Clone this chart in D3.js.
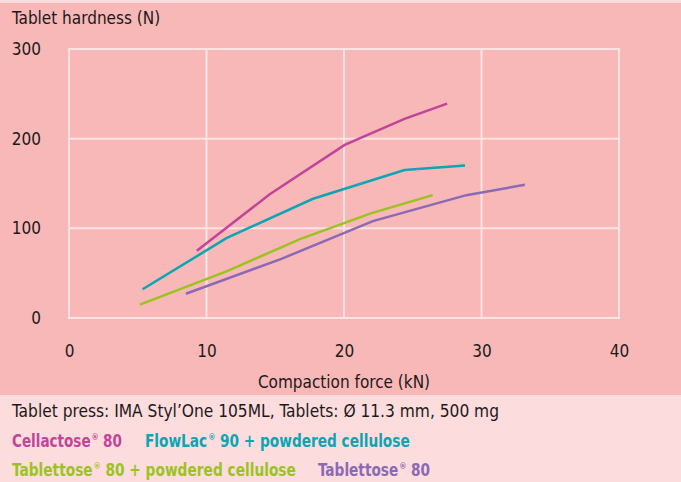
<!DOCTYPE html>
<html>
<head>
<meta charset="utf-8">
<script src="https://cdn.jsdelivr.net/npm/d3@7"></script>
<style>
  body { margin: 0; background: #fddcdd; }
  svg text { font-family: "DejaVu Sans Condensed", "DejaVu Sans", sans-serif; fill: #1a1a1a; }
</style>
</head>
<body>
<div id="chart"></div>
<script>
var width = 681, height = 482;
var margin = {left: 69, right: 62, top: 49, bottom: 164};

// data (force kN, hardness N)
var cellactose = [[9.3, 75], [14.6, 138], [20.05, 193], [24.4, 222], [27.5, 239]];
var flowlac = [[5.35, 32], [11.45, 89], [17.75, 133], [24.4, 165], [28.8, 170]];
var tablettoseCell = [[5.15, 15], [11.45, 52], [16.8, 88], [22.0, 117], [26.45, 137]];
var tablettose = [[8.5, 27], [15.45, 66], [22.1, 108], [28.9, 137], [33.15, 148.5]];

var xTicks = [0, 10, 20, 30, 40];
var yTicks = [0, 100, 200, 300];

var series = [
  {name: 'Tablettose 80', data: tablettose, color: '#8a6ab4'},
  {name: 'Tablettose 80 + powdered cellulose', data: tablettoseCell, color: '#9ac31f'},
  {name: 'FlowLac 90 + powdered cellulose', data: flowlac, color: '#0ba5b4'},
  {name: 'Cellactose 80', data: cellactose, color: '#c2449a'}
];

var svg = d3.select('#chart').append('svg')
    .attr('width', width)
    .attr('height', height);

// background panels
svg.append('rect').attr('x', 0).attr('y', 0).attr('width', width).attr('height', height)
   .style('fill', '#fddcdd');
svg.append('rect').attr('x', 0).attr('y', 3).attr('width', width).attr('height', 392)
   .style('fill', '#f8b8b8');

var xScale = d3.scaleLinear().domain([0, 40]).range([margin.left, width - margin.right]);
var yScale = d3.scaleLinear().domain([0, 300]).range([height - margin.bottom, margin.top]);

var grid_g = svg.append('g');
grid_g.selectAll('.vgrid').data(xTicks).enter().append('line')
    .attr('x1', d => xScale(d)).attr('x2', d => xScale(d))
    .attr('y1', yScale(0)).attr('y2', yScale(300))
    .style('stroke', '#fde3e3').style('stroke-width', 2);
grid_g.selectAll('.hgrid').data(yTicks).enter().append('line')
    .attr('x1', xScale(0) - 1).attr('x2', xScale(40) + 1)
    .attr('y1', d => yScale(d)).attr('y2', d => yScale(d))
    .style('stroke', '#fde3e3').style('stroke-width', 2);

// axes
var xAxis = svg.append('g')
    .attr('transform', 'translate(0,' + (yScale(0) + 41) + ')')
    .call(d3.axisBottom(xScale).tickValues(xTicks).tickSize(0).tickPadding(0));
xAxis.select('.domain').remove();
xAxis.selectAll('text').style('font-size', '17px').attr('dy', '-0.1em');

var yAxis = svg.append('g')
    .attr('transform', 'translate(41,0)')
    .call(d3.axisLeft(yScale).tickValues(yTicks).tickSize(0).tickPadding(0));
yAxis.select('.domain').remove();
yAxis.selectAll('text').style('font-size', '17px').attr('dy', '0.32em');

svg.append('text').attr('x', 12).attr('y', 24)
   .style('font-size', '17px').text('Tablet hardness (N)');
svg.append('text').attr('x', xScale(20)).attr('y', 388)
   .attr('text-anchor', 'middle')
   .style('font-size', '17px').text('Compaction force (kN)');

// lines
var line = d3.line()
    .x(d => xScale(d[0]))
    .y(d => yScale(d[1]));

svg.selectAll('.series').data(series).enter().append('path')
    .attr('d', d => line(d.data))
    .style('fill', 'none')
    .style('stroke', d => d.color)
    .style('stroke-width', 2.5);

// caption + legend
svg.append('text').attr('x', 12).attr('y', 417)
   .style('font-size', '17px')
   .attr('textLength', 487).attr('lengthAdjust', 'spacingAndGlyphs')
   .text('Tablet press: IMA Styl\u2019One 105ML, Tablets: \u00d8 11.3 mm, 500 mg');

var legendItems = [
  {label: 'Cellactose', rest: '80', color: '#c2449a', x: 12, y: 447, w: 110},
  {label: 'FlowLac', rest: '90 + powdered cellulose', color: '#0ba5b4', x: 145, y: 447, w: 265},
  {label: 'Tablettose', rest: '80 + powdered cellulose', color: '#9ac31f', x: 12, y: 476, w: 284},
  {label: 'Tablettose', rest: '80', color: '#8a6ab4', x: 318, y: 476, w: 112}
];

legendItems.forEach(function(item) {
  var g = svg.append('g');
  var a = g.append('text').attr('x', 0).attr('y', 0)
      .style('font-size', '17px').style('font-weight', 'bold')
      .style('fill', item.color).text(item.label);
  var wa = a.node().getComputedTextLength();
  var s = g.append('text').attr('x', wa + 1).attr('y', -7)
      .style('font-size', '9px').style('font-weight', 'bold')
      .style('fill', item.color).text('\u00ae');
  var ws = s.node().getComputedTextLength();
  var b = g.append('text').attr('x', wa + ws + 6).attr('y', 0)
      .style('font-size', '17px').style('font-weight', 'bold')
      .style('fill', item.color).text(item.rest);
  var total = wa + ws + 6 + b.node().getComputedTextLength();
  g.attr('transform', 'translate(' + item.x + ',' + item.y + ') scale(' + (item.w / total) + ',1)');
});
</script>
</body>
</html>
